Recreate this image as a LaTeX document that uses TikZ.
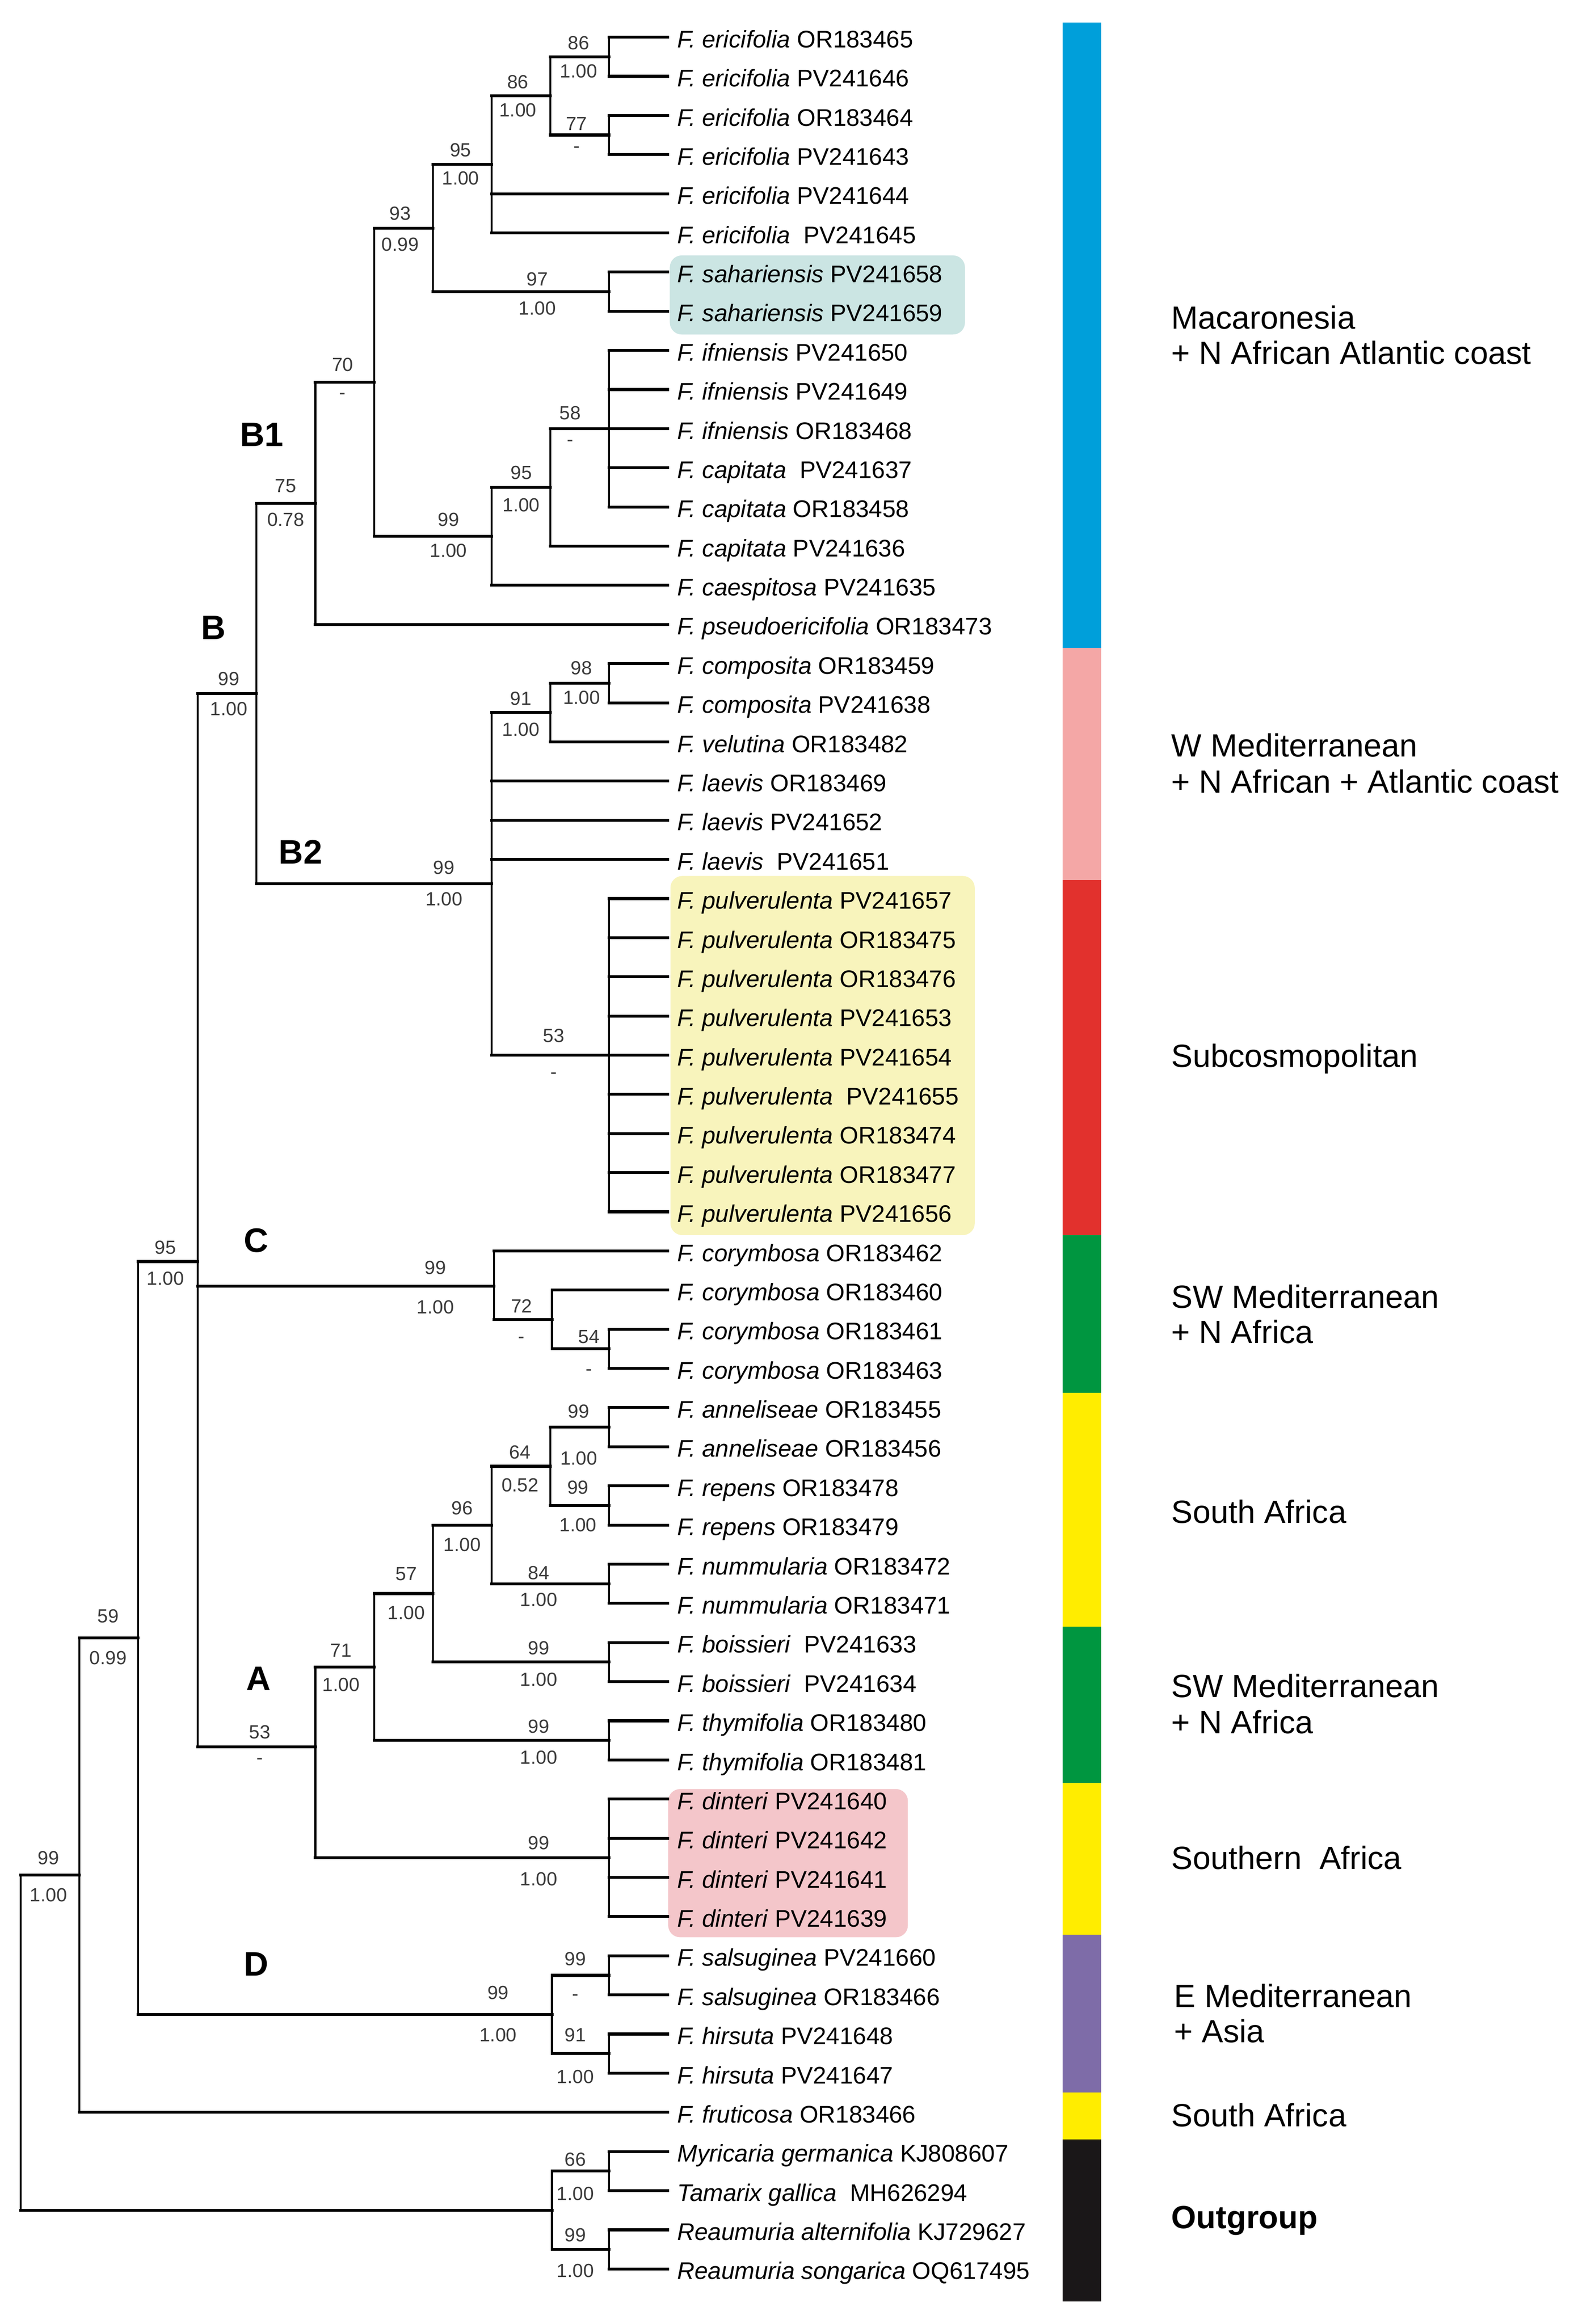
\documentclass[tikz,border=0pt]{standalone}
\usepackage{fontspec}
\setmainfont{Liberation Sans}
\definecolor{cblue}{HTML}{009FDA}
\definecolor{cpink}{HTML}{F4A7A6}
\definecolor{cred}{HTML}{E2312D}
\definecolor{cgreen}{HTML}{009640}
\definecolor{cyellow}{HTML}{FFED00}
\definecolor{cpurple}{HTML}{7E6CA8}
\definecolor{cblack}{HTML}{1A1718}
\definecolor{hteal}{HTML}{CBE5E3}
\definecolor{hyellow}{HTML}{F8F4BC}
\definecolor{hpink}{HTML}{F4C6CA}
\definecolor{numgray}{HTML}{3A3A3A}
\tikzset{
  hbranch/.style={line width=1.1pt, line cap=rect},
  vbranch/.style={line width=0.75pt, line cap=rect},
  taxon/.style={anchor=base west, inner sep=0pt, font=\fontsize{9.2pt}{11pt}\selectfont},
  supp/.style={inner sep=0pt, text height=5.2pt, text depth=0pt, text=numgray, font=\fontsize{7.3pt}{9pt}\selectfont},
  clade/.style={inner sep=0pt, text height=9.3pt, text depth=0pt, font=\fontsize{13pt}{15pt}\selectfont\bfseries},
  region/.style={anchor=base west, inner sep=0pt, font=\fontsize{12.3pt}{14pt}\selectfont},
  hbox/.style={rounded corners=0.16cm},
}
\newcommand\br[2]{\draw[vbranch] (#1) -- (#1 |- #2); \draw[hbranch] (#1 |- #2) -- (#2);}
\newcommand\lf[3]{\path (t#1) ++(6,7) node[taxon] (n#1) {\textit{#2} #3};}
\newcommand\sv[6]{\node[supp] (#1a) at (#2,#3) {#5}; \node[supp] (#1b) at (#2,#4) {#6};}
\begin{document}
\begin{tikzpicture}[x=0.02cm, y=-0.02cm]
\useasboundingbox (0,0) rectangle (1059,1564);
\fill[white] (0,0) rectangle (1059,1564);

% highlight boxes
\fill[hteal, hbox] (450.8,171.9) rectangle (649.4,225.1);
\fill[hyellow, hbox] (451.2,589.5) rectangle (656,831.2);
\fill[hpink, hbox] (449.7,1204) rectangle (611,1303.7);

% leaf tips
\foreach \i in {1,...,58} \coordinate (t\i) at (449.5, {25+26.35*(\i-1)});

% internal nodes
\coordinate (a1) at (409.8,38.175);
\coordinate (a2) at (409.8,90.875);
\coordinate (a3) at (370.5,64.525);
\coordinate (a4) at (330.8,110.64);
\coordinate (a5) at (409.8,196.275);
\coordinate (a6) at (291.5,153.46);
\coordinate (a7) at (409.8,288.5);
\coordinate (a8) at (370.5,328.03);
\coordinate (a9) at (330.8,360.96);
\coordinate (a10) at (251.8,257.21);
\coordinate (a11) at (212.2,338.73);
\coordinate (b1) at (409.8,459.78);
\coordinate (b2) at (370.5,479.54);
\coordinate (b3) at (409.8,710.1);
\coordinate (b4) at (330.8,594.82);
\coordinate (b5) at (172.6,466.78);
\coordinate (c1) at (409.8,907.73);
\coordinate (c2) at (371.5,887.96);
\coordinate (c3) at (332.5,865.5);
\coordinate (e1) at (409.8,960.43);
\coordinate (e2) at (409.8,1013.13);
\coordinate (e3) at (370.5,986.78);
\coordinate (e4) at (409.8,1065.83);
\coordinate (e5) at (330.8,1026.3);
\coordinate (e6) at (409.8,1118.53);
\coordinate (e7) at (291.5,1072.4);
\coordinate (e8) at (409.8,1171.23);
\coordinate (e9) at (251.8,1121.8);
\coordinate (e10) at (409.8,1250.28);
\coordinate (e11) at (212.2,1175.5);
\coordinate (f1) at (133,849);
\coordinate (g1) at (409.8,1329.33);
\coordinate (g2) at (409.8,1382.03);
\coordinate (g3) at (371.5,1355.68);
\coordinate (h1) at (92.8,1102.3);
\coordinate (h2) at (53.5,1261.9);
\coordinate (o1) at (409.8,1461.08);
\coordinate (o2) at (409.8,1513.78);
\coordinate (o3) at (371.5,1487.43);
\coordinate (root) at (14,1374.7);

% branches
\br{a1}{t1}\br{a1}{t2}\br{a2}{t3}\br{a2}{t4}
\br{a3}{a1}\br{a3}{a2}
\br{a4}{a3}\br{a4}{t5}\br{a4}{t6}
\br{a5}{t7}\br{a5}{t8}
\br{a6}{a4}\br{a6}{a5}
\foreach \i in {9,...,13} {\br{a7}{t\i}}
\br{a8}{a7}\br{a8}{t14}
\br{a9}{a8}\br{a9}{t15}
\br{a10}{a6}\br{a10}{a9}
\br{a11}{a10}\br{a11}{t16}
\br{b1}{t17}\br{b1}{t18}
\br{b2}{b1}\br{b2}{t19}
\foreach \i in {23,...,31} {\br{b3}{t\i}}
\br{b4}{b2}\br{b4}{t20}\br{b4}{t21}\br{b4}{t22}\br{b4}{b3}
\br{b5}{a11}\br{b5}{b4}
\br{c1}{t34}\br{c1}{t35}
\br{c2}{t33}\br{c2}{c1}
\br{c3}{t32}\br{c3}{c2}
\br{e1}{t36}\br{e1}{t37}
\br{e2}{t38}\br{e2}{t39}
\br{e3}{e1}\br{e3}{e2}
\br{e4}{t40}\br{e4}{t41}
\br{e5}{e3}\br{e5}{e4}
\br{e6}{t42}\br{e6}{t43}
\br{e7}{e5}\br{e7}{e6}
\br{e8}{t44}\br{e8}{t45}
\br{e9}{e7}\br{e9}{e8}
\foreach \i in {46,...,49} {\br{e10}{t\i}}
\br{e11}{e9}\br{e11}{e10}
\br{f1}{b5}\br{f1}{c3}\br{f1}{e11}
\br{g1}{t50}\br{g1}{t51}
\br{g2}{t52}\br{g2}{t53}
\br{g3}{g1}\br{g3}{g2}
\br{h1}{f1}\br{h1}{g3}
\br{h2}{h1}\br{h2}{t54}
\br{o1}{t55}\br{o1}{t56}
\br{o2}{t57}\br{o2}{t58}
\br{o3}{o1}\br{o3}{o2}
\br{root}{h2}\br{root}{o3}

% leaf labels
\lf{1}{F. ericifolia}{OR183465}
\lf{2}{F. ericifolia}{PV241646}
\lf{3}{F. ericifolia}{OR183464}
\lf{4}{F. ericifolia}{PV241643}
\lf{5}{F. ericifolia}{PV241644}
\lf{6}{F. ericifolia}{\ PV241645}
\lf{7}{F. sahariensis}{PV241658}
\lf{8}{F. sahariensis}{PV241659}
\lf{9}{F. ifniensis}{PV241650}
\lf{10}{F. ifniensis}{PV241649}
\lf{11}{F. ifniensis}{OR183468}
\lf{12}{F. capitata}{\ PV241637}
\lf{13}{F. capitata}{OR183458}
\lf{14}{F. capitata}{PV241636}
\lf{15}{F. caespitosa}{PV241635}
\lf{16}{F. pseudoericifolia}{OR183473}
\lf{17}{F. composita}{OR183459}
\lf{18}{F. composita}{PV241638}
\lf{19}{F. velutina}{OR183482}
\lf{20}{F. laevis}{OR183469}
\lf{21}{F. laevis}{PV241652}
\lf{22}{F. laevis}{\ PV241651}
\lf{23}{F. pulverulenta}{PV241657}
\lf{24}{F. pulverulenta}{OR183475}
\lf{25}{F. pulverulenta}{OR183476}
\lf{26}{F. pulverulenta}{PV241653}
\lf{27}{F. pulverulenta}{PV241654}
\lf{28}{F. pulverulenta}{\ PV241655}
\lf{29}{F. pulverulenta}{OR183474}
\lf{30}{F. pulverulenta}{OR183477}
\lf{31}{F. pulverulenta}{PV241656}
\lf{32}{F. corymbosa}{OR183462}
\lf{33}{F. corymbosa}{OR183460}
\lf{34}{F. corymbosa}{OR183461}
\lf{35}{F. corymbosa}{OR183463}
\lf{36}{F. anneliseae}{OR183455}
\lf{37}{F. anneliseae}{OR183456}
\lf{38}{F. repens}{OR183478}
\lf{39}{F. repens}{OR183479}
\lf{40}{F. nummularia}{OR183472}
\lf{41}{F. nummularia}{OR183471}
\lf{42}{F. boissieri}{\ PV241633}
\lf{43}{F. boissieri}{\ PV241634}
\lf{44}{F. thymifolia}{OR183480}
\lf{45}{F. thymifolia}{OR183481}
\lf{46}{F. dinteri}{PV241640}
\lf{47}{F. dinteri}{PV241642}
\lf{48}{F. dinteri}{PV241641}
\lf{49}{F. dinteri}{PV241639}
\lf{50}{F. salsuginea}{PV241660}
\lf{51}{F. salsuginea}{OR183466}
\lf{52}{F. hirsuta}{PV241648}
\lf{53}{F. hirsuta}{PV241647}
\lf{54}{F. fruticosa}{OR183466}
\lf{55}{Myricaria germanica}{KJ808607}
\lf{56}{Tamarix gallica}{\ MH626294}
\lf{57}{Reaumuria alternifolia}{KJ729627}
\lf{58}{Reaumuria songarica}{OQ617495}

% support values
\sv{s1}{389.4}{28.7}{47.8}{86}{1.00}
\sv{s2}{348.5}{55}{74}{86}{1.00}
\sv{s3}{388}{83}{98}{77}{-}
\sv{s4}{310}{100.8}{119.9}{95}{1.00}
\sv{s5}{269.3}{143.5}{164.5}{93}{0.99}
\sv{s6}{361.6}{187.6}{207.2}{97}{1.00}
\sv{s7}{230.6}{245.4}{263.9}{70}{-}
\sv{s8}{383.8}{277.7}{295.4}{58}{-}
\sv{s9}{350.8}{318}{339.8}{95}{1.00}
\sv{s10}{301.8}{349.4}{370.4}{99}{1.00}
\sv{s11}{192.3}{326.9}{349.4}{75}{0.78}
\sv{s12}{154}{456.7}{476.9}{99}{1.00}
\sv{s13}{391.4}{449.3}{469.2}{98}{1.00}
\sv{s14}{350.5}{469.9}{490.9}{91}{1.00}
\sv{s15}{298.8}{583.7}{604.8}{99}{1.00}
\sv{s16}{372.6}{696.7}{721.1}{53}{-}
\sv{s17}{111.3}{839.3}{860.3}{95}{1.00}
\sv{s18}{293}{853}{879.6}{99}{1.00}
\sv{s19}{351}{879}{899}{72}{-}
\sv{s20}{396.4}{899.5}{920.8}{54}{-}
\sv{s21}{389.5}{949.5}{981.2}{99}{1.00}
\sv{s22}{389}{1000.9}{1026.2}{99}{1.00}
\sv{s23}{350}{977.3}{999.2}{64}{0.52}
\sv{s24}{311}{1014.6}{1039.4}{96}{1.00}
\sv{s25}{362.6}{1058.3}{1076.3}{84}{1.00}
\sv{s26}{273.5}{1059.1}{1085.3}{57}{1.00}
\sv{s27}{362.6}{1108.8}{1130.2}{99}{1.00}
\sv{s28}{229.5}{1110.5}{1133.7}{71}{1.00}
\sv{s29}{174.8}{1165.4}{1182.5}{53}{-}
\sv{s30}{362.6}{1161.6}{1182.5}{99}{1.00}
\sv{s31}{72.8}{1087.4}{1115.7}{59}{0.99}
\sv{s32}{32.7}{1250.3}{1275.2}{99}{1.00}
\sv{s33}{362.6}{1240}{1264.5}{99}{1.00}
\sv{s34}{387.2}{1318}{1341.4}{99}{-}
\sv{s35}{335.2}{1340.8}{1369.4}{99}{1.00}
\sv{s36}{387.2}{1369.4}{1397.3}{91}{1.00}
\sv{s37}{387.2}{1453}{1476}{66}{1.00}
\sv{s38}{387.2}{1504}{1528}{99}{1.00}

% clade letters
\node[clade] (cB1) at (176.2,292.2) {B1};
\node[clade] (cB) at (143.7,422) {B};
\node[clade] (cB2) at (202.3,573.2) {B2};
\node[clade] (cC) at (172.5,834.5) {C};
\node[clade] (cA) at (173.9,1129.4) {A};
\node[clade] (cD) at (172.5,1321.4) {D};

% colour bar
\fill[cblue] (715,15.1) rectangle (741,436);
\fill[cpink] (715,436) rectangle (741,592.3);
\fill[cred] (715,592.3) rectangle (741,831.1);
\fill[cgreen] (715,831.1) rectangle (741,937.2);
\fill[cyellow] (715,937.2) rectangle (741,1094.7);
\fill[cgreen] (715,1094.7) rectangle (741,1199.8);
\fill[cyellow] (715,1199.8) rectangle (741,1302);
\fill[cpurple] (715,1302) rectangle (741,1408.2);
\fill[cyellow] (715,1408.2) rectangle (741,1439.7);
\fill[cblack] (715,1439.7) rectangle (741,1548.8);

% region labels
\node[region] (r1) at (788,221.5) {Macaronesia};
\node[region] (r1b) at (788,245) {+ N African Atlantic coast};
\node[region] (r2) at (788,509.3) {W Mediterranean};
\node[region] (r2b) at (788,533.5) {+ N African + Atlantic coast};
\node[region] (r3) at (788,718) {Subcosmopolitan};
\node[region] (r4) at (788,880.3) {SW Mediterranean};
\node[region] (r4b) at (788,904) {+ N Africa};
\node[region] (r5) at (788,1025) {South Africa};
\node[region] (r6) at (788,1142.3) {SW Mediterranean};
\node[region] (r6b) at (788,1166.5) {+ N Africa};
\node[region] (r7) at (788,1258) {Southern\ \ Africa};
\node[region] (r8) at (790,1350.8) {E Mediterranean};
\node[region] (r8b) at (790,1374.5) {+ Asia};
\node[region] (r9) at (788,1431.2) {South Africa};
\node[region, font=\fontsize{12.3pt}{14pt}\selectfont\bfseries] (r10) at (788,1499.8) {Outgroup};
\end{tikzpicture}
\end{document}
